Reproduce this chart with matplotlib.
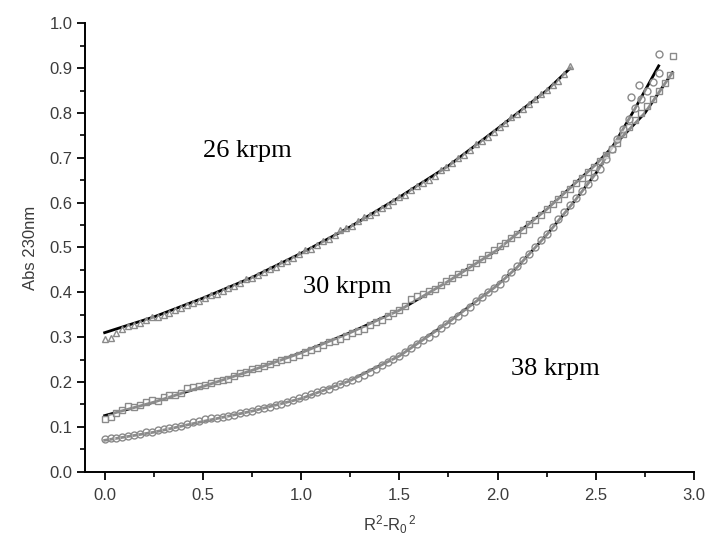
import matplotlib.pyplot as plt
import numpy as np

plt.rcParams['font.family'] = ['Liberation Sans', 'DejaVu Sans']
plt.rcParams['mathtext.default'] = 'regular'

# 26 krpm (triangles)
x26 = [0.00, 0.03, 0.06, 0.09, 0.12, 0.15, 0.18, 0.21, 0.24, 0.27, 0.30, 0.33, 0.36, 0.39, 0.42, 0.45,
       0.48, 0.51, 0.54, 0.57, 0.60, 0.63, 0.66, 0.69, 0.72, 0.75, 0.78, 0.81, 0.84, 0.87, 0.90, 0.93,
       0.96, 0.99, 1.02, 1.05, 1.08, 1.11, 1.14, 1.17, 1.20, 1.23, 1.26, 1.29, 1.32, 1.35, 1.38, 1.41,
       1.44, 1.47, 1.50, 1.53, 1.56, 1.59, 1.62, 1.65, 1.68, 1.71, 1.74, 1.77, 1.80, 1.83, 1.86, 1.89,
       1.92, 1.95, 1.98, 2.01, 2.04, 2.07, 2.10, 2.13, 2.16, 2.19, 2.22, 2.25, 2.28, 2.31, 2.34, 2.37]
y26 = [0.295, 0.299, 0.310, 0.318, 0.324, 0.327, 0.331, 0.339, 0.344, 0.345, 0.349, 0.354, 0.361, 0.365, 0.372, 0.377,
       0.380, 0.388, 0.393, 0.396, 0.403, 0.410, 0.414, 0.421, 0.430, 0.433, 0.438, 0.446, 0.452, 0.456, 0.466, 0.470,
       0.476, 0.486, 0.494, 0.497, 0.506, 0.515, 0.520, 0.528, 0.540, 0.543, 0.549, 0.560, 0.567, 0.572, 0.580, 0.587,
       0.594, 0.603, 0.612, 0.617, 0.628, 0.637, 0.644, 0.650, 0.660, 0.673, 0.680, 0.688, 0.700, 0.707, 0.717, 0.730,
       0.738, 0.746, 0.758, 0.768, 0.777, 0.790, 0.798, 0.808, 0.820, 0.830, 0.842, 0.852, 0.862, 0.872, 0.886, 0.905]

# 30 krpm (squares)
x30 = [0.00, 0.03, 0.06, 0.09, 0.12, 0.15, 0.18, 0.21, 0.24, 0.27, 0.30, 0.33, 0.36, 0.39, 0.42, 0.45,
       0.48, 0.51, 0.54, 0.57, 0.60, 0.63, 0.66, 0.69, 0.72, 0.75, 0.78, 0.81, 0.84, 0.87, 0.90, 0.93,
       0.96, 0.99, 1.02, 1.05, 1.08, 1.11, 1.14, 1.17, 1.20, 1.23, 1.26, 1.29, 1.32, 1.35, 1.38, 1.41,
       1.44, 1.47, 1.50, 1.53, 1.56, 1.59, 1.62, 1.65, 1.68, 1.71, 1.74, 1.77, 1.80, 1.83, 1.86, 1.89,
       1.92, 1.95, 1.98, 2.01, 2.04, 2.07, 2.10, 2.13, 2.16, 2.19, 2.22, 2.25, 2.28, 2.31, 2.34, 2.37,
       2.40, 2.43, 2.46, 2.49, 2.52, 2.55, 2.58, 2.61, 2.64, 2.67, 2.70, 2.73, 2.76, 2.79, 2.82, 2.85,
       2.88, 2.895]
y30 = [0.118, 0.121, 0.130, 0.138, 0.146, 0.144, 0.148, 0.156, 0.160, 0.158, 0.166, 0.172, 0.170, 0.176, 0.186, 0.188,
       0.190, 0.194, 0.197, 0.202, 0.205, 0.206, 0.213, 0.220, 0.222, 0.228, 0.231, 0.235, 0.240, 0.244, 0.250, 0.252,
       0.255, 0.261, 0.267, 0.271, 0.276, 0.283, 0.290, 0.292, 0.297, 0.303, 0.310, 0.313, 0.318, 0.328, 0.334, 0.338,
       0.347, 0.353, 0.360, 0.369, 0.384, 0.392, 0.396, 0.402, 0.408, 0.417, 0.425, 0.432, 0.440, 0.446, 0.457, 0.466,
       0.475, 0.484, 0.494, 0.503, 0.510, 0.522, 0.531, 0.540, 0.552, 0.561, 0.572, 0.585, 0.597, 0.609, 0.620, 0.631,
       0.644, 0.656, 0.668, 0.679, 0.692, 0.706, 0.720, 0.734, 0.752, 0.768, 0.784, 0.799, 0.816, 0.832, 0.848, 0.866,
       0.884, 0.926]

# 38 krpm (circles)
x38 = [0.00, 0.03, 0.06, 0.09, 0.12, 0.15, 0.18, 0.21, 0.24, 0.27, 0.30, 0.33, 0.36, 0.39, 0.42, 0.45,
       0.48, 0.51, 0.54, 0.57, 0.60, 0.63, 0.66, 0.69, 0.72, 0.75, 0.78, 0.81, 0.84, 0.87, 0.90, 0.93,
       0.96, 0.99, 1.02, 1.05, 1.08, 1.11, 1.14, 1.17, 1.20, 1.23, 1.26, 1.29, 1.32, 1.35, 1.38, 1.41,
       1.44, 1.47, 1.50, 1.53, 1.56, 1.59, 1.62, 1.65, 1.68, 1.71, 1.74, 1.77, 1.80, 1.83, 1.86, 1.89,
       1.92, 1.95, 1.98, 2.01, 2.04, 2.07, 2.10, 2.13, 2.16, 2.19, 2.22, 2.25, 2.28, 2.31, 2.34, 2.37,
       2.40, 2.43, 2.46, 2.49, 2.52, 2.55, 2.58, 2.61, 2.64, 2.67, 2.70, 2.73, 2.76, 2.79, 2.82,
       2.68, 2.72, 2.823]
y38 = [0.072, 0.074, 0.075, 0.077, 0.079, 0.081, 0.085, 0.088, 0.088, 0.092, 0.095, 0.097, 0.099, 0.102, 0.107, 0.110,
       0.113, 0.117, 0.119, 0.120, 0.122, 0.124, 0.126, 0.130, 0.133, 0.136, 0.140, 0.143, 0.145, 0.148, 0.151, 0.156,
       0.160, 0.164, 0.168, 0.173, 0.178, 0.182, 0.185, 0.190, 0.196, 0.200, 0.204, 0.210, 0.216, 0.223, 0.230, 0.237,
       0.244, 0.251, 0.258, 0.266, 0.276, 0.285, 0.293, 0.301, 0.310, 0.320, 0.330, 0.339, 0.348, 0.356, 0.367, 0.380,
       0.390, 0.400, 0.410, 0.419, 0.432, 0.446, 0.458, 0.473, 0.486, 0.500, 0.516, 0.530, 0.546, 0.563, 0.578, 0.594,
       0.610, 0.626, 0.642, 0.658, 0.676, 0.698, 0.720, 0.742, 0.764, 0.786, 0.810, 0.830, 0.850, 0.868, 0.888,
       0.835, 0.862, 0.932]

# fitted curves
fx26 = [0.00, 0.25, 0.50, 0.75, 1.00, 1.25, 1.50, 1.75, 2.00, 2.25, 2.37]
fy26 = [0.310, 0.345, 0.387, 0.433, 0.487, 0.546, 0.612, 0.682, 0.765, 0.850, 0.900]
fx30 = [0.00, 0.25, 0.50, 0.75, 1.00, 1.25, 1.50, 1.75, 2.00, 2.25, 2.50, 2.75, 2.89]
fy30 = [0.125, 0.155, 0.190, 0.226, 0.265, 0.310, 0.360, 0.425, 0.495, 0.585, 0.685, 0.800, 0.890]
fx38 = [0.00, 0.25, 0.50, 0.75, 1.00, 1.25, 1.50, 1.75, 2.00, 2.10, 2.25, 2.40, 2.50, 2.60, 2.70, 2.82]
fy38 = [0.070, 0.088, 0.112, 0.135, 0.163, 0.203, 0.258, 0.333, 0.416, 0.456, 0.528, 0.608, 0.665, 0.735, 0.810, 0.905]

labels = ['26 krpm', '30 krpm', '38 krpm']
label_pos = [(0.50, 0.702), (1.01, 0.398), (2.07, 0.215)]

fig = plt.figure(figsize=(7.09, 5.5), dpi=100)
ax = fig.add_axes([0.1199, 0.1424, 0.8590, 0.8153])

# half see-through fill so the fit line shows through in places, like the original
mk = dict(linestyle='none', ms=5.0, mfc=(1, 1, 1, 0.55), mec='#8a8a8a', mew=1.0, zorder=3)
for fx, fy in [(fx26, fy26), (fx30, fy30), (fx38, fy38)]:
    ax.plot(fx, fy, color='black', lw=2.0, zorder=2)
ax.plot(x26, y26, marker='^', **mk)
ax.plot(x30, y30, marker='s', **mk)
ax.plot(x38, y38, marker='o', **mk)

for t, (px, py) in zip(labels, label_pos):
    ax.text(px, py, t, family=['Liberation Serif', 'DejaVu Serif'], fontsize=19, ha='left', va='baseline')

ax.set_xlim(-0.1, 3.0)
ax.set_ylim(0.0, 1.0)
ax.set_xticks(np.arange(0, 3.01, 0.5))
ax.set_xticks(np.arange(0.25, 3.0, 0.5), minor=True)
ax.set_yticks(np.arange(0, 1.01, 0.1))
ax.set_yticks(np.arange(0.05, 1.0, 0.1), minor=True)
ax.xaxis.set_major_formatter(plt.FormatStrFormatter('%.1f'))
ax.yaxis.set_major_formatter(plt.FormatStrFormatter('%.1f'))

for s in ['top', 'right']:
    ax.spines[s].set_visible(False)
for s in ['left', 'bottom']:
    ax.spines[s].set_linewidth(1.4)
ax.tick_params(which='major', direction='out', length=5.5, width=1.3, labelsize=12, labelcolor='#3c3c3c')
ax.tick_params(which='minor', direction='out', length=3.5, width=1.2)
ax.tick_params(axis='x', which='major', pad=6)

ax.set_xlabel('R$^2$-R$_0$$^{\\,2}$', fontsize=12, color='#3c3c3c', labelpad=8)
ax.set_ylabel('Abs 230nm', fontsize=12, color='#3c3c3c', labelpad=8)

fig.savefig('out.png', dpi=100)
